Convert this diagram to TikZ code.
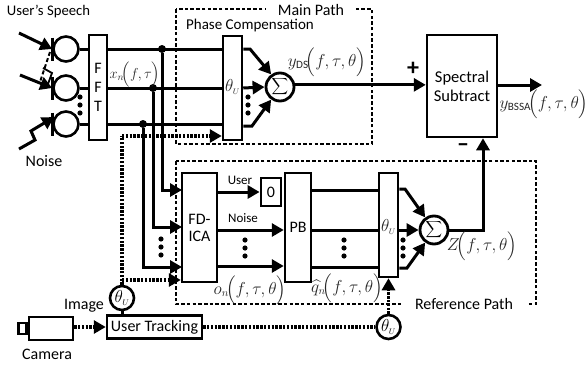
\documentclass[tikz,border=0pt]{standalone}
\usepackage{amsmath,amssymb}
\usepackage{fontspec}
\setmainfont{Carlito}
\usepackage{tikz}
\usetikzlibrary{arrows.meta,positioning,calc}

\begin{document}
\begin{tikzpicture}[x=1pt, y=-1pt, font=\fontsize{16}{17}\selectfont,
  wire/.style={line width=3pt},
  arrow/.style={line width=3pt, -{Triangle[length=12pt,width=13pt]}},
  dotline/.style={line width=3.4pt, dash pattern=on 2.4pt off 1.4pt},
  dotarrow/.style={dotline, -{Triangle[length=12pt,width=13pt,sep=0pt]}},
  pathbox/.style={line width=1.4pt, dash pattern=on 3.5pt off 2.2pt},
  block/.style={rectangle, draw, line width=2.5pt, fill=white, inner sep=0pt, align=center},
  mic/.style={circle, draw, line width=2.6pt, fill=white, minimum size=25pt, inner sep=0pt},
  summer/.style={circle, draw, line width=2.8pt, fill=white, minimum size=28pt, inner sep=0pt, font=\fontsize{11.5}{12}\selectfont},
  angle/.style={circle, draw, line width=2.6pt, fill=white, minimum size=24pt, inner sep=0pt},
  junc/.style={circle, fill=black, minimum size=8pt, inner sep=0pt},
  lab/.style={inner sep=0pt},
  small/.style={inner sep=0pt, font=\fontsize{13}{14}\selectfont},
  eqn/.style={inner sep=0pt, text=black!85, font=\fontsize{16}{17}\selectfont}]
  \useasboundingbox (0,0) rectangle (587,367);

  % dashed frames
  \draw[pathbox] (176,9) rectangle (372,144);
  \draw[pathbox] (176,161) rectangle (536,304);
  \node[lab, fill=white, minimum width=90pt, minimum height=6pt] (mainpath) at (311,10) {Main Path};
  \node[lab, fill=white, minimum width=127pt, minimum height=6pt] (refpath) at (464,304) {Reference Path};
  \node[lab, font=\fontsize{15}{16}\selectfont] (phasetxt) at (250,25) {Phase Compensation};

  % blocks
  \node[mic] (mic1) at (66,49) {};
  \node[mic] (mic2) at (66,88) {};
  \node[mic] (mic3) at (66,124) {};
  \node[block, minimum width=18pt, minimum height=105pt] (fft) at (98,87.5) {F\\[2pt]F\\[2pt]T};
  \node[block, minimum width=19pt, minimum height=104pt] (phase) at (232.5,88) {};
  \node[summer] (sum1) at (280,87) {$\displaystyle\sum$};
  \node[block, minimum width=70pt, minimum height=102pt, font=\fontsize{16.5}{19}\selectfont] (subtract) at (462,86) {Spectral\\Subtract};
  \node[block, minimum width=35pt, minimum height=109pt] (fdica) at (199.5,227.5) {FD-\\ICA};
  \node[block, line width=2.8pt, minimum width=20pt, minimum height=28pt] (zero) at (271,192) {0};
  \node[block, minimum width=26pt, minimum height=109pt] (pb) at (298,227.5) {PB};
  \node[block, minimum width=19pt, minimum height=104pt] (steer) at (388.5,225) {};
  \node[summer] (sum2) at (434,230) {$\displaystyle\sum$};
  \node[block, minimum width=95pt, minimum height=23pt] (track) at (154.5,327) {User Tracking};
  \node[block, minimum width=44pt, minimum height=23pt] (camera) at (51,328.5) {};
  \node[block, minimum width=8pt, minimum height=11pt, left=0pt of camera] (lens) {};
  \node[angle] (ang1) at (122,298) {$\theta_{\scriptscriptstyle U}$};
  \node[angle] (ang2) at (388.5,327) {$\theta_{\scriptscriptstyle U}$};
  \node[lab, text=black!85] (th1) at (232.5,87) {$\theta_{\scriptscriptstyle U}$};
  \node[lab, text=black!85] (th2) at (388.5,227) {$\theta_{\scriptscriptstyle U}$};

  % microphones and sources
  \foreach \m in {mic1,mic2,mic3}
    \draw[wire] ([yshift=11.5pt]\m.west) -- ([yshift=-11.5pt]\m.west);
  \coordinate (src1) at (19,33);
  \coordinate (src2) at (20,75);
  \coordinate (src3) at (19,149);
  \draw[arrow] (src1) -- (mic1.west);
  \draw[arrow] (src2) -- (mic2.west);
  \draw[arrow] (src3) -- (35,140) -- (31,131) -- (mic3.150);
  \draw[line width=2pt, dash pattern=on 4pt off 2.5pt] (50,52) -- (40,82);
  \draw[line width=1.8pt] (43,68) -- (52,73) -- (48,84);

  % FFT inputs and outputs
  \foreach \m in {mic1,mic2,mic3} {
    \draw[wire] (\m.east) -- (fft.west |- \m);
    \draw[wire] (fft.east |- \m) -- (phase.west |- \m);
  }
  \node[junc] (j1) at (162,49) {};
  \node[junc] (j2) at (153,88) {};
  \node[junc] (j3) at (143,124) {};
  \coordinate (in1) at (182,190);
  \coordinate (in2) at (182,227);
  \coordinate (in3) at (182,267);
  \draw[arrow] (j1) |- (in1);
  \draw[arrow] (j2) |- (in2);
  \draw[arrow] (j3) |- (in3);

  % main path
  \draw[arrow] (phase.east |- mic1) -- (250,49) -- (sum1.125);
  \draw[arrow] (phase.east |- mic2) -- (sum1.west);
  \draw[arrow] (phase.east |- 0,126) -- (252,126) -- (sum1.-125);
  \draw[arrow] (sum1.8) -- (subtract.west |- sum1.8);
  \coordinate (outp) at (542,85);
  \draw[arrow] (subtract.east |- outp) -- (outp);

  % reference path
  \draw[arrow] (fdica.east |- zero) -- (zero.west);
  \draw[arrow] (fdica.east |- 0,230) -- (pb.west |- 0,230);
  \draw[arrow] (fdica.east |- 0,266) -- (pb.west |- 0,266);
  \draw[wire] (pb.east |- 0,190) -- (steer.west |- 0,190);
  \draw[wire] (pb.east |- 0,230) -- (steer.west |- 0,230);
  \draw[wire] (pb.east |- 0,267) -- (steer.west |- 0,267);
  \draw[arrow] (steer.east |- 0,189) -- (405,189) -- (sum2.125);
  \draw[arrow] (steer.east |- sum2) -- (sum2.west);
  \draw[arrow] (steer.east |- 0,268) -- (407,268) -- (sum2.-125);
  \draw[arrow] (sum2.east) -| (subtract.south -| 483,0);

  % tracking
  \draw[dotarrow] (camera.east |- track) -- (track.west);
  \draw[dotline] (track.east) -- (ang2.west);
  \draw[wire] (ang1.south) -- (track.north -| ang1);
  \draw[dotarrow] (ang2.north) -- (steer.south);
  \coordinate (tap1) at (122,136);
  \coordinate (tap2) at (122,280);
  \draw[dotline] (ang1.north) -- (tap1);
  \draw[dotarrow] (tap1) -- (phase.west |- tap1);
  \draw[dotarrow] (tap2) -- (fdica.west |- tap2);

  % vertical dots
  \foreach \cx/\cy in {80/105,248/105,161/247,245/248,344/248,403/248}
    \foreach \d in {-8,0,8}
      \fill (\cx,\cy+\d) circle (2.6pt);

  % texts
  \node[lab, font=\fontsize{14.7}{16}\selectfont] (speech) at (48.5,12) {User's Speech};
  \node[lab] (noise) at (44,161) {Noise};
  \node[lab] (image) at (84,306) {Image};
  \node[lab] (camtxt) at (47,354) {Camera};
  \node[small] (user) at (240,180) {User};
  \node[small] (noisetxt) at (243,218) {Noise};
  \node[lab, font=\fontsize{24}{24}\selectfont\bfseries] (plus) at (413,69) {+};
  \node[lab, font=\fontsize{24}{24}\selectfont\bfseries] (minus) at (463,148) {\textendash};
  \node[eqn, font=\fontsize{14}{15}\selectfont] (xn) at (135,75) {$x_{n}\!\Bigl(f,\tau\Bigr)$};
  \node[eqn] (yds) at (327,62) {$y_{\mathrm{DS}}\!\Bigl(f,\tau,\theta\Bigr)$};
  \node[eqn] (ybssa) at (544,104) {$y_{\mathrm{BSSA}}\!\Bigl(f,\tau,\theta\Bigr)$};
  \node[eqn] (zft) at (482,246) {$Z\!\Bigl(f,\tau,\theta\Bigr)$};
  \node[eqn] (on) at (250,290) {$o_{n}\!\Bigl(f,\tau,\theta\Bigr)$};
  \node[eqn] (qn) at (347,288) {$\widehat{q}_{n}\!\Bigl(f,\tau,\theta\Bigr)$};
\end{tikzpicture}
\end{document}
